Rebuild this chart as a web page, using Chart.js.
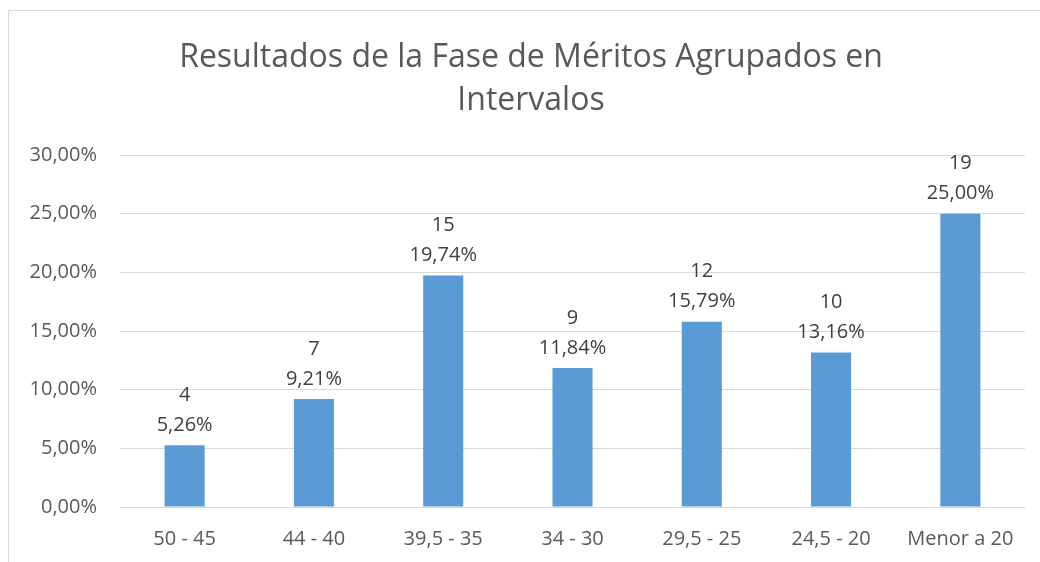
<!DOCTYPE html>
<html>
<head>
<meta charset="utf-8">
<script src="https://cdn.jsdelivr.net/npm/chart.js@4.4.0/dist/chart.umd.min.js"></script>
<style>
  html, body { margin: 0; padding: 0; background: #fff; overflow: hidden; }
  #wrap { position: relative; width: 1040px; height: 562px; }
  #frame { position: absolute; left: 8px; top: 10px; width: 1100px; height: 600px; border: 1.5px solid #d9d9d9; box-sizing: border-box; }
  #chart { position: absolute; left: 0; top: 0; }
</style>
</head>
<body>
<div id="wrap">
  <div id="frame"></div>
  <canvas id="chart" width="1040" height="562"></canvas>
</div>
<script>
// Data
const categories = ['50 - 45', '44 - 40', '39,5 - 35', '34 - 30', '29,5 - 25', '24,5 - 20', 'Menor a 20'];
const percentages = [5.26, 9.21, 19.74, 11.84, 15.79, 13.16, 25.00];
const counts = [4, 7, 15, 9, 12, 10, 19];
const titleLines = ['Resultados de la Fase de Méritos Agrupados en', 'Intervalos'];

const FONT = "'Open Sans', 'Noto Sans', sans-serif";

function fmtPct(v) {
    return v.toFixed(2).replace('.', ',') + '%';
}

// title drawn by hand so it sits where Excel put it (a bit right of centre)
const chartTitle = {
    id: 'chartTitle',
    afterDraw(chart) {
        const ctx = chart.ctx;
        ctx.save();
        ctx.font = '32px ' + FONT;
        ctx.fillStyle = '#595959';
        ctx.textAlign = 'center';
        ctx.textBaseline = 'middle';
        titleLines.forEach((line, i) => ctx.fillText(line, 531, 58 + i * 43));
        ctx.restore();
    }
};

// two-line label above each bar: count, then percentage
const barLabels = {
    id: 'barLabels',
    afterDatasetsDraw(chart) {
        const ctx = chart.ctx;
        const meta = chart.getDatasetMeta(0);
        ctx.save();
        ctx.font = '20px ' + FONT;
        ctx.fillStyle = '#404040';
        ctx.textAlign = 'center';
        ctx.textBaseline = 'middle';
        meta.data.forEach((bar, i) => {
            ctx.fillText(String(counts[i]), bar.x, bar.y - 50);
            ctx.fillText(fmtPct(percentages[i]), bar.x, bar.y - 20);
        });
        ctx.restore();
    }
};

new Chart(document.getElementById('chart'), {
    type: 'bar',
    data: {
        labels: categories,
        datasets: [{
            data: percentages,
            backgroundColor: '#5b9bd5',
            barPercentage: 0.62,
            categoryPercentage: 0.5
        }]
    },
    options: {
        responsive: false,
        animation: false,
        layout: { padding: { left: 0, right: 15, top: 155, bottom: 0 } },
        plugins: {
            legend: { display: false },
            tooltip: { enabled: false },
            title: { display: false }
        },
        scales: {
            x: {
                grid: { display: false, drawTicks: false },
                border: { display: true, color: '#d9d9d9', width: 1 },
                ticks: { color: '#595959', font: { family: FONT, size: 20 }, padding: 20, maxRotation: 0 },
                afterFit(scale) { scale.height = 55; }
            },
            y: {
                min: 0,
                max: 30,
                ticks: {
                    stepSize: 5,
                    color: '#595959',
                    font: { family: FONT, size: 20 },
                    padding: 23,
                    callback: v => fmtPct(v)
                },
                grid: { color: '#d9d9d9', lineWidth: 1, drawTicks: false },
                border: { display: false },
                afterFit(scale) { scale.width = 120; }
            }
        }
    },
    plugins: [barLabels, chartTitle]
});
</script>
</body>
</html>
